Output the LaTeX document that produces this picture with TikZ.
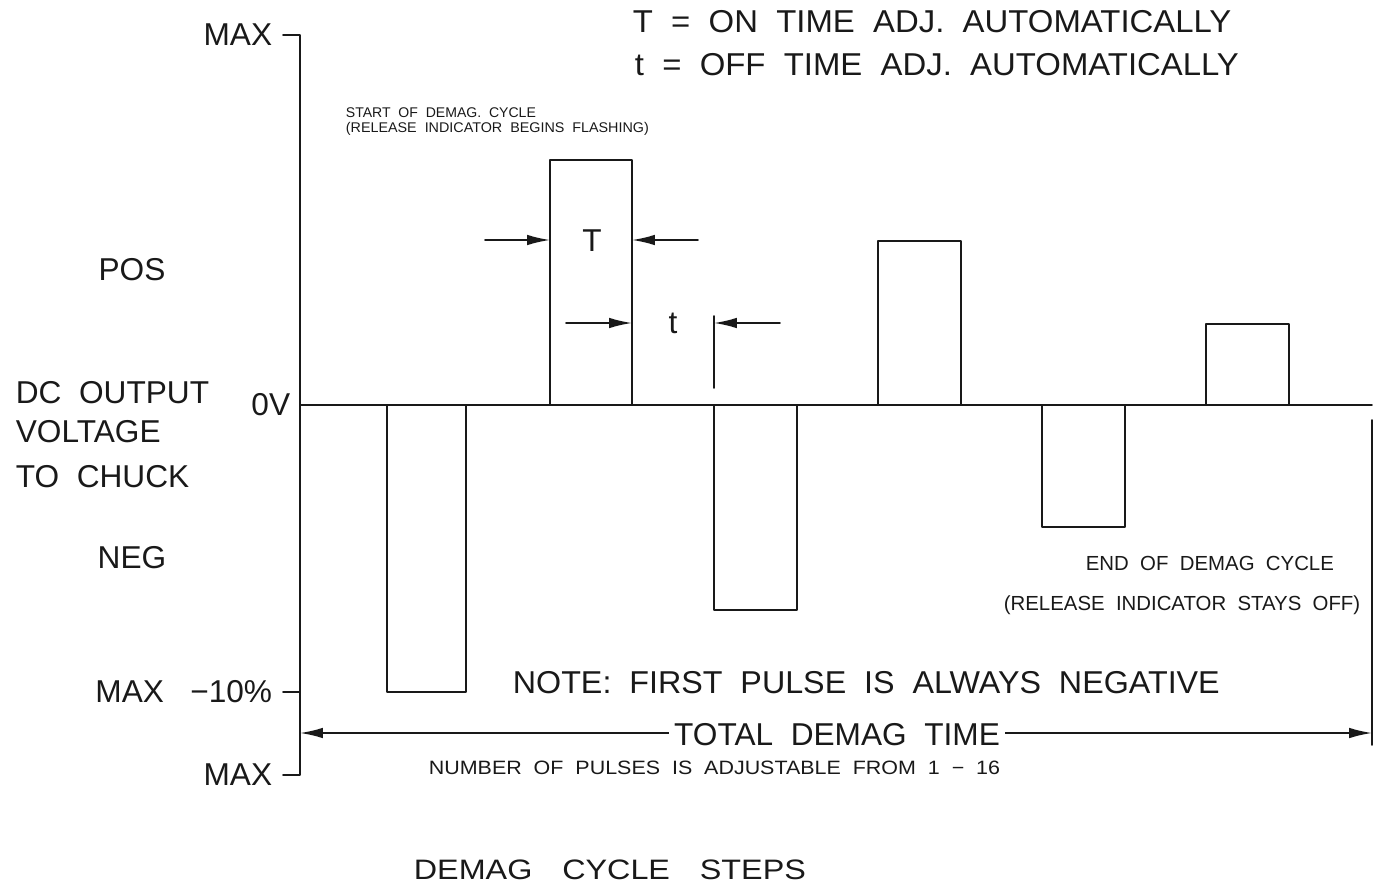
\documentclass[tikz,border=0pt]{standalone}
\usepackage{fontspec}
\setmainfont{Liberation Sans}
\usetikzlibrary{arrows.meta}
\definecolor{ink}{rgb}{0.1,0.1,0.1}
\newcommand{\wide}[1]{\addfontfeatures{FakeStretch=#1}}
\tikzset{
  big/.style={font=\fontsize{18}{20}\selectfont, inner sep=0pt},
  mid/.style={font=\fontsize{11.6}{14}\selectfont, inner sep=0pt},
  lbl/.style={font=\fontsize{11}{13}\selectfont\wide{1.11}, inner sep=0pt},
  tiny/.style={font=\fontsize{8}{9}\selectfont, inner sep=0pt},
  pulse/.style={draw=ink}
}

\begin{document}
\begin{tikzpicture}[line cap=round,line join=round,>={Latex[length=13pt,width=6pt]},x=0.02cm,y=-0.02cm,line width=1pt,color=ink]
\useasboundingbox (0,0) rectangle (1381,888);

% axis and ticks
\draw (283,35) -- (300,35) -- (300,775) -- (283,775);
\draw (283,692) -- (300,692);
\draw (300,405) -- (1372,405);
\draw (1372,420) -- (1372,745);

% pulses
\draw[pulse] (387,405) rectangle (466,692);
\draw[pulse] (550,405) rectangle (632,160);
\draw[pulse] (714,405) rectangle (797,610);
\draw[pulse] (878,405) rectangle (961,241);
\draw[pulse] (1042,405) rectangle (1125,527);
\draw[pulse] (1206,405) rectangle (1289,324);

% on / off time
\draw[->] (485,240) -- (550,240);
\draw[->] (698,240) -- (632,240);
\draw[->] (566,323) -- (632,323);
\draw[->] (780,323) -- (714,323);
\draw (714,316) -- (714,388);
\node[big] (on) at (592,241) {T};
\node[big] (off) at (673,323) {t};

% total time
\draw[<->] (300,733) -- (1372,733);
\node[big,fill=white,inner xsep=3pt] (total) at (837,735) {TOTAL\ \ DEMAG\ \ TIME};

% axis labels
\node[big,anchor=east] (maxtop) at (273,35) {MAX};
\node[big] (pos) at (132,270) {POS};
\node[big,anchor=west] (dc) at (15,393) {DC\ \ OUTPUT};
\node[big,anchor=west] (volt) at (15,432) {VOLTAGE};
\node[big,anchor=west] (chuck) at (15,477) {TO\ \ CHUCK};
\node[big,anchor=east] (zero) at (291,405) {0V};
\node[big] (neg) at (132,558) {NEG};
\node[big,anchor=east] (maxten) at (273,692) {MAX\ \ \ −10\%};
\node[big,anchor=east] (maxbot) at (273,775) {MAX};

% notes
\node[big,anchor=west,font=\fontsize{18}{20}\selectfont\wide{1.04}] (legon) at (632,22) {T\ \ =\ \ ON\ \ TIME\ \ ADJ.\ \ AUTOMATICALLY};
\node[big,anchor=west,font=\fontsize{18}{20}\selectfont\wide{1.04}] (legoff) at (634,65) {t\ \ =\ \ OFF\ \ TIME\ \ ADJ.\ \ AUTOMATICALLY};
\node[tiny,anchor=west] (start) at (345,113) {START\ \ OF\ \ DEMAG.\ \ CYCLE};
\node[tiny,anchor=west,font=\fontsize{8}{9}\selectfont\wide{1.02}] (flash) at (345,129) {(RELEASE\ \ INDICATOR\ \ BEGINS\ \ FLASHING)};
\node[mid,anchor=west] (endc) at (1085,563) {END\ \ OF\ \ DEMAG\ \ CYCLE};
\node[mid,anchor=west] (stays) at (1003,605) {(RELEASE\ \ INDICATOR\ \ STAYS\ \ OFF)};
\node[big,anchor=west,font=\fontsize{18}{20}\selectfont\wide{1.02}] (note) at (512,683) {NOTE:\ \ FIRST\ \ PULSE\ \ IS\ \ ALWAYS\ \ NEGATIVE};
\node[lbl,anchor=west] (count) at (428,768) {NUMBER\ \ OF\ \ PULSES\ \ IS\ \ ADJUSTABLE\ \ FROM\ \ 1\ \ −\ \ 16};
\node[big,anchor=west,font=\fontsize{16}{18}\selectfont\wide{1.15}] (title) at (413,870) {DEMAG\hspace{17pt}CYCLE\hspace{17pt}STEPS};
\end{tikzpicture}
\end{document}
